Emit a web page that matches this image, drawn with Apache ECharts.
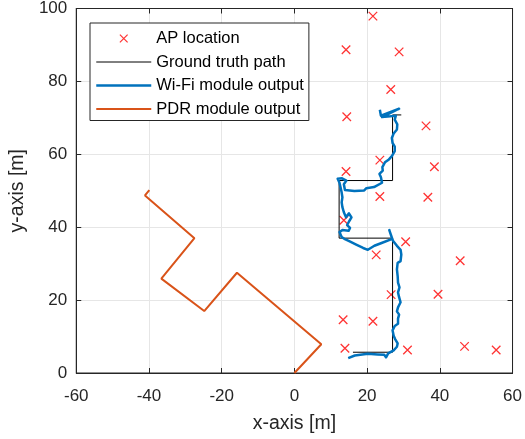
<!DOCTYPE html>
<html>
<head>
<meta charset="utf-8">
<script src="https://cdn.jsdelivr.net/npm/echarts@6/dist/echarts.min.js"></script>
<style>
html,body{margin:0;padding:0;background:#fff;}
#chart{width:525px;height:439px;}
</style>
</head>
<body>
<div id="chart"></div>
<script>
// ---- Data ----
const seriesNames = ['AP location', 'Ground truth path', 'Wi-Fi module output', 'PDR module output'];
const xTicks = [-60, -40, -20, 0, 20, 40, 60];
const yTicks = [0, 20, 40, 60, 80, 100];

const apX = [21.6, 14.2, 28.8, 26.5, 14.4, 36.2, 23.5, 38.5, 14.2, 23.5, 36.7, 13.6, 30.6, 22.5, 45.6, 26.6, 39.5, 13.4, 21.6, 13.9, 31.1, 46.8, 55.5];
const apY = [97.9, 88.7, 88.1, 77.8, 70.3, 67.8, 58.4, 56.6, 55.3, 48.4, 48.2, 41.9, 36.0, 32.4, 30.8, 21.5, 21.6, 14.6, 14.2, 6.8, 6.3, 7.3, 6.3];

const truthX = [16.1, 27.0, 27.0, 12.3, 12.3, 27.0, 27.0, 29.4];
const truthY = [5.7, 5.7, 37.0, 37.0, 52.8, 52.8, 70.8, 70.8];

const wifiX = [14.8, 16.6, 20.2, 22.9, 24.7, 25.2, 25.8, 27.4, 28.2, 28.4, 27.7, 27.3, 27.0, 26.5, 27.6, 28.5, 28.5, 28.8, 28.2, 28.5,
               29.2, 28.8, 28.5, 28.9, 28.5, 28.4, 28.2, 28.4, 29.2, 29.4, 29.2, 28.2, 27.1, 26.1, 26.9, 23.8, 22.0, 20.2, 18.9, 17.0,
               15.2, 13.9, 13.0, 12.4, 13.2, 14.9, 15.3, 14.5, 15.1, 15.7, 15.0, 14.2, 13.6, 13.2, 13.0, 13.2, 13.0, 12.7, 12.4, 11.9,
               13.1, 14.3, 13.6, 13.9, 16.5, 19.2, 19.8, 21.9, 24.1, 23.8, 23.4, 24.3, 24.2, 24.9, 26.0, 26.8, 27.6, 27.6, 27.0, 26.8,
               27.3, 28.2, 28.3, 27.6, 27.9, 24.1, 28.8, 23.8, 23.5];
const wifiY = [4.1, 4.8, 5.3, 5.1, 5.0, 4.3, 5.4, 6.3, 7.2, 8.1, 9.3, 10.2, 11.7, 12.2, 12.9, 13.5, 14.9, 16.0, 16.9, 18.0,
               19.4, 20.8, 22.1, 23.5, 24.8, 26.6, 28.4, 30.2, 30.7, 32.5, 33.8, 34.9, 36.3, 39.2, 36.8, 35.6, 34.9, 33.8, 34.3, 35.2,
               36.1, 36.7, 37.3, 38.7, 39.2, 39.0, 39.8, 40.6, 41.7, 42.7, 43.8, 42.7, 44.1, 45.5, 46.8, 48.2, 49.5, 50.9, 52.2, 53.3,
               53.4, 52.8, 51.8, 50.2, 49.9, 50.1, 50.7, 51.0, 52.2, 53.7, 54.6, 55.5, 56.5, 57.8, 58.6, 59.5, 60.9, 62.1, 63.1, 64.5,
               65.7, 66.8, 68.2, 69.5, 70.6, 70.2, 72.5, 70.6, 72.2];

const pdrX = [0, 7.4, -15.8, -24.8, -36.6, -27.5, -41.1, -39.9];
const pdrY = [0, 7.9, 27.5, 17.0, 25.9, 37.0, 48.7, 50.2];

// ---- Build ----
const zip = (xs, ys) => xs.map((x, i) => [x, ys[i]]);
const FONT = '"Liberation Sans", Arial, Helvetica, sans-serif';
const TXT = '#262626';
const crossPath = 'path://M0,0L10,10M10,0L0,10';
const crossLegend = 'path://M0,0M29,29M6.5,6.5L22.5,22.5M22.5,6.5L6.5,22.5';
const hiddenSymbol = {color: 'rgba(0,0,0,0)', borderColor: 'rgba(0,0,0,0)', borderWidth: 0, opacity: 0};

const chart = echarts.init(document.getElementById('chart'), null, {renderer: 'canvas'});
const xAxisBase = {
  type: 'value', min: xTicks[0], max: xTicks[xTicks.length - 1], interval: 20
};
const yAxisBase = {
  type: 'value', min: yTicks[0], max: yTicks[yTicks.length - 1], interval: 20
};
chart.setOption({
  animation: false,
  backgroundColor: '#ffffff',
  textStyle: {fontFamily: FONT},
  grid: {left: 71, top: 5, width: 442.5, height: 370, show: true, borderColor: '#262626', borderWidth: 1, backgroundColor: '#fff'},
  legend: {
    orient: 'vertical', left: 90, top: 23,
    padding: [7, 5, 3, 5],
    itemWidth: 55, itemHeight: 14, itemGap: 6.5,
    backgroundColor: '#ffffff', borderColor: '#262626', borderWidth: 1,
    textStyle: {fontFamily: FONT, fontSize: 16.5, color: '#000', lineHeight: 16},
    lineStyle: {width: 'inherit'},
    selectedMode: false,
    data: [
      {name: seriesNames[0], icon: crossLegend, itemStyle: {borderWidth: 1.2, borderColor: '#ff0000', color: 'rgba(0,0,0,0)'}},
      {name: seriesNames[1], itemStyle: hiddenSymbol},
      {name: seriesNames[2], itemStyle: hiddenSymbol},
      {name: seriesNames[3], itemStyle: hiddenSymbol}
    ]
  },
  xAxis: [
    Object.assign({}, xAxisBase, {
      position: 'bottom',
      name: 'x-axis [m]', nameLocation: 'middle', nameGap: 41,
      nameTextStyle: {fontFamily: FONT, fontSize: 19.5, color: TXT},
      axisLine: {show: true, onZero: false, lineStyle: {color: '#262626', width: 1}},
      axisTick: {show: true, inside: true, length: 5, lineStyle: {color: '#262626'}},
      axisLabel: {show: true, margin: 15, fontFamily: FONT, fontSize: 17, color: TXT},
      splitLine: {show: true, lineStyle: {color: '#e6e6e6', width: 1}}
    }),
    Object.assign({}, xAxisBase, {
      position: 'top',
      axisLine: {show: true, onZero: false, lineStyle: {color: '#262626', width: 1}},
      axisTick: {show: true, inside: true, length: 5, lineStyle: {color: '#262626'}},
      axisLabel: {show: false},
      splitLine: {show: false}
    })
  ],
  yAxis: [
    Object.assign({}, yAxisBase, {
      position: 'left',
      name: 'y-axis [m]', nameLocation: 'middle', nameGap: 41, nameRotate: 90,
      nameTextStyle: {fontFamily: FONT, fontSize: 19.5, color: TXT},
      axisLine: {show: true, onZero: false, lineStyle: {color: '#262626', width: 1}},
      axisTick: {show: true, inside: true, length: 5, lineStyle: {color: '#262626'}},
      axisLabel: {show: true, margin: 9, fontFamily: FONT, fontSize: 17, color: TXT, padding: [5, 0, 0, 0]},
      splitLine: {show: true, lineStyle: {color: '#e6e6e6', width: 1}}
    }),
    Object.assign({}, yAxisBase, {
      position: 'right',
      axisLine: {show: true, onZero: false, lineStyle: {color: '#262626', width: 1}},
      axisTick: {show: true, inside: true, length: 5, lineStyle: {color: '#262626'}},
      axisLabel: {show: false},
      splitLine: {show: false}
    })
  ],
  series: [
    {
      name: seriesNames[0], type: 'scatter', xAxisIndex: 0, yAxisIndex: 0,
      data: zip(apX, apY),
      symbol: crossPath, symbolSize: 8.5,
      itemStyle: {color: 'rgba(0,0,0,0)', borderColor: '#ff0000', borderWidth: 1.3},
      z: 2
    },
    {
      name: seriesNames[1], type: 'line', xAxisIndex: 0, yAxisIndex: 0,
      data: zip(truthX, truthY), symbol: 'none', showSymbol: false,
      lineStyle: {color: '#000000', width: 1}, itemStyle: {color: '#000000'},
      z: 3
    },
    {
      name: seriesNames[2], type: 'line', xAxisIndex: 0, yAxisIndex: 0,
      data: zip(wifiX, wifiY), symbol: 'none', showSymbol: false,
      lineStyle: {color: '#0072bd', width: 2.5, join: 'round'}, itemStyle: {color: '#0072bd'},
      z: 4
    },
    {
      name: seriesNames[3], type: 'line', xAxisIndex: 0, yAxisIndex: 0,
      data: zip(pdrX, pdrY), symbol: 'none', showSymbol: false,
      lineStyle: {color: '#d95319', width: 2}, itemStyle: {color: '#d95319'},
      z: 4
    }
  ]
});
</script>
</body>
</html>
